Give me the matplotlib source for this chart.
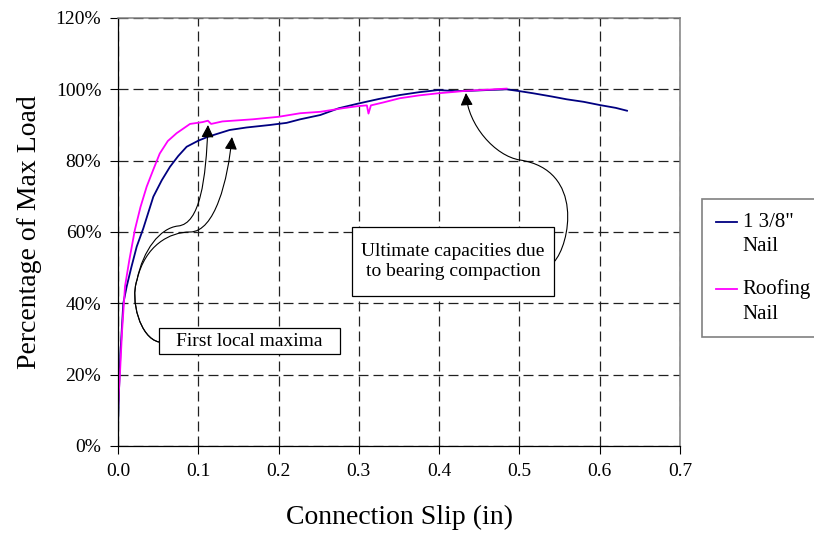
import matplotlib
matplotlib.use('Agg')
import matplotlib.pyplot as plt
from matplotlib.path import Path
from matplotlib.patches import FancyArrowPatch, Rectangle
from matplotlib.lines import Line2D
from matplotlib.legend_handler import HandlerLine2D

plt.rcParams['font.family'] = ['Liberation Serif', 'DejaVu Serif']

# dados (deslizamento em pol., % da carga maxima)
prego_x = [0, 0.001, 0.003, 0.0066, 0.0108, 0.0165, 0.0233, 0.0315, 0.044, 0.0545,
           0.0648, 0.075, 0.0855, 0.1, 0.112, 0.139, 0.16, 0.189, 0.21, 0.227,
           0.252, 0.275, 0.299, 0.325, 0.351, 0.375, 0.399, 0.42, 0.44, 0.46,
           0.484, 0.5, 0.517, 0.54, 0.559, 0.58, 0.6, 0.62, 0.634]
prego_y = [5, 14, 26, 40, 44.7, 50, 55.9, 61, 69.9, 74.5,
           78.3, 81.3, 83.9, 85.6, 86.7, 88.6, 89.3, 90, 90.6, 91.6,
           92.8, 94.7, 96, 97.3, 98.4, 99.2, 99.8, 99.5, 99.6, 99.8,
           100, 99.5, 98.9, 98, 97.2, 96.5, 95.6, 94.8, 94]

telhado_x = [0, 0.001, 0.0025, 0.005, 0.0087, 0.014, 0.021, 0.028, 0.0357, 0.044,
             0.052, 0.062, 0.073, 0.0897, 0.105, 0.112, 0.116, 0.13, 0.168, 0.2,
             0.227, 0.252, 0.28, 0.299, 0.31, 0.312, 0.315, 0.33, 0.351, 0.375,
             0.399, 0.42, 0.434, 0.46, 0.484]
telhado_y = [10, 15, 20.5, 32, 44.7, 52, 60.6, 67, 72.7, 77.5,
             82, 85.5, 87.7, 90.3, 90.8, 91.2, 90.3, 91, 91.6, 92.3,
             93.3, 93.7, 94.7, 95.3, 95.5, 93.2, 95.5, 96.3, 97.5, 98.3,
             98.9, 99.3, 99.6, 99.9, 100.2]

rotulos = ['1 3/8"\nNail', 'Roofing\nNail']
cores = ['#000080', '#FF00FF']


class HandlerPrimeiraLinha(HandlerLine2D):
    # coloca a linha da legenda na altura da primeira linha do texto
    def create_artists(self, legend, orig_handle, xdescent, ydescent,
                       width, height, fontsize, trans):
        arts = super().create_artists(legend, orig_handle, xdescent, ydescent,
                                      width, height, fontsize, trans)
        for a in arts:
            a.set_ydata([y + 0.6 * fontsize for y in a.get_ydata()])
        return arts


fig = plt.figure(figsize=(8.14, 5.38), dpi=100)
ax = fig.add_axes([118/814, 92/538, 562/814, 428/538])

ax.plot(prego_x, prego_y, color=cores[0], lw=1.3)
ax.plot(telhado_x, telhado_y, color=cores[1], lw=1.3)

ax.set_xlim(0, 0.7)
ax.set_ylim(0, 120)
ax.set_xticks([i / 10 for i in range(8)])
ax.set_xticklabels(['%.1f' % (i / 10) for i in range(8)])
ax.set_yticks(range(0, 121, 20))
ax.set_yticklabels(['%d%%' % v for v in range(0, 121, 20)])
ax.tick_params(labelsize=14, length=6, width=0.8, color='black')
ax.tick_params(axis='x', pad=6)
ax.tick_params(axis='y', pad=6)
ax.grid(True, color='#202020', lw=0.9, linestyle=(0, (8, 4)))

for lado in ['top', 'right']:
    ax.spines[lado].set_color('#808080')
    ax.spines[lado].set_linewidth(1.1)
for lado in ['left', 'bottom']:
    ax.spines[lado].set_color('black')
    ax.spines[lado].set_linewidth(0.9)

ax.set_xlabel('Connection Slip (in)', fontsize=20, labelpad=18)
ax.set_ylabel('Percentage of Max Load', fontsize=20, labelpad=10)

# caixas de texto e setas (posicoes em pixels convertidas p/ dados)
def px(x, y):
    return ((x - 118) / 803, (446 - y) / 428 * 120)

def caixa(x0, y0, x1, y1, texto):
    a = px(x0, y1)
    b = px(x1, y0)
    ax.add_patch(Rectangle(a, b[0] - a[0], b[1] - a[1], facecolor='white',
                           edgecolor='black', lw=0.9, zorder=5))
    c = px((x0 + x1) / 2, (y0 + y1) / 2)
    ax.text(c[0], c[1], texto, ha='center', va='center', fontsize=14, zorder=6)

def seta(pontos):
    verts = [px(*p) for p in pontos]
    codes = [Path.MOVETO] + [Path.CURVE4] * (len(verts) - 1)
    ax.add_patch(FancyArrowPatch(path=Path(verts, codes), transform=ax.transData,
                                 arrowstyle='-|>,head_length=0.5,head_width=0.25',
                                 mutation_scale=15, color='black', lw=0.8, zorder=4))

seta([(159, 342), (140, 338), (130, 300), (137, 280),
      (143, 250), (160, 228), (178, 226),
      (200, 224), (206, 180), (208, 125)])
seta([(159, 342), (140, 338), (130, 300), (137, 280),
      (145, 245), (170, 232), (190, 232),
      (215, 232), (228, 180), (232, 137)])
seta([(554, 262), (570, 245), (585, 170), (520, 160),
      (495, 156), (468, 125), (466, 93)])

caixa(159, 328, 340, 354, 'First local maxima')
caixa(352, 227, 554, 296, 'Ultimate capacities due\nto bearing compaction')

handles = [Line2D([], [], color=c, lw=1.3) for c in cores]
leg = fig.legend(handles, rotulos, loc='upper left',
                 bbox_to_anchor=(702/814, 1 - 199/538), fontsize=15,
                 frameon=True, fancybox=False, handlelength=1.05,
                 handletextpad=0.25, borderpad=0.65, labelspacing=1.1,
                 borderaxespad=0,
                 handler_map={Line2D: HandlerPrimeiraLinha()})
for t in leg.get_texts():
    t.set_linespacing(1.4)
leg.get_frame().set_edgecolor('#606060')
leg.get_frame().set_linewidth(1.2)

plt.savefig('out.png', dpi=100)
plt.close()
